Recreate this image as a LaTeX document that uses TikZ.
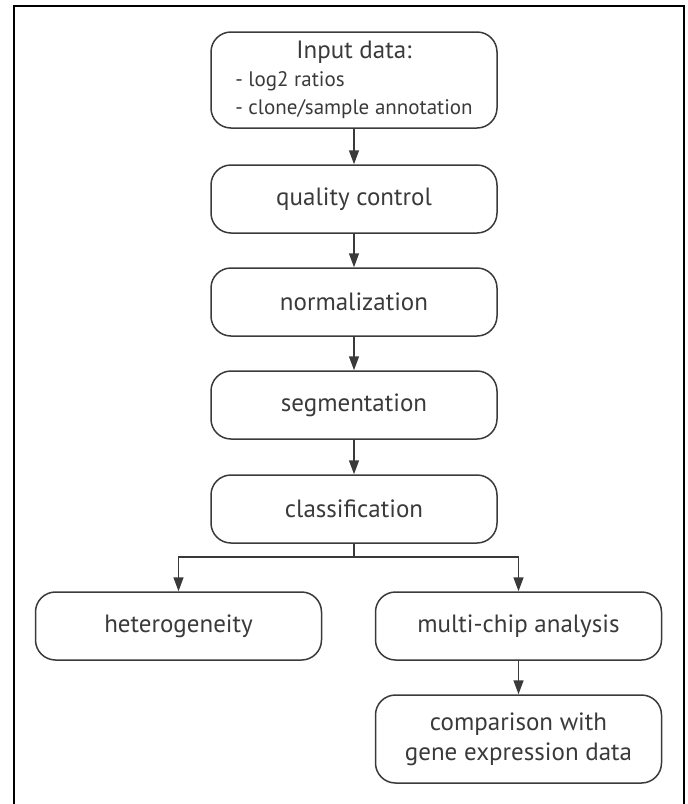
\documentclass[tikz,border=0pt]{standalone}
\usepackage{fontspec}
\setmainfont{PT Sans}
\usetikzlibrary{arrows.meta,positioning}
\definecolor{ink}{HTML}{3A3A3A}
\begin{document}
\begin{tikzpicture}[x=1pt,y=1pt,
  stage/.style={draw=ink, line width=1.5pt, rounded corners=20pt, minimum width=286pt,
    text=ink, font=\fontsize{25}{30}\selectfont, inner sep=0pt},
  flow/.style={draw=ink, line width=1.5pt, -{Triangle[length=14pt,width=10pt]}}]
\useasboundingbox (0,0) rectangle (688,-804);
\draw[line width=2pt, black] (14,-804) -- (14,-6) -- (684,-6) -- (684,-804);

\node[stage, minimum height=96pt] (input) at (354,-80)
  {\begin{tabular}{@{}l@{}}\multicolumn{1}{@{}c@{}}{\fontsize{25}{28}\selectfont Input data:}\\[-2pt]
   \fontsize{21}{27}\selectfont - log2 ratios\\[-2pt]
   \fontsize{21}{27}\selectfont - clone/sample annotation\end{tabular}};
\node[stage, minimum height=68pt] (qc) at (354,-199) {quality control};
\node[stage, minimum height=68pt] (norm) at (354,-302) {normalization};
\node[stage, minimum height=68pt] (seg) at (354,-405) {segmentation};
\node[stage, minimum height=68pt] (cls) at (354,-509) {classification};
\node[stage, minimum height=68pt] (het) at (178.5,-626) {heterogeneity};
\node[stage, minimum height=68pt] (mc) at (518.5,-626) {multi-chip analysis};
\node[stage, minimum height=88pt, align=center, font=\fontsize{25}{30}\selectfont] (cmp) at (518.5,-739)
  {comparison with\\gene expression data};

\coordinate (br) at (354,-557);
\draw[flow] (input) -- (qc);
\draw[flow] (qc) -- (norm);
\draw[flow] (norm) -- (seg);
\draw[flow] (seg) -- (cls);
\draw[draw=ink, line width=1.5pt] (cls.south) -- (br);
\draw[flow] (br) -| (het.north);
\draw[flow] (br) -| (mc.north);
\draw[flow] (mc) -- (cmp);
\end{tikzpicture}
\end{document}
